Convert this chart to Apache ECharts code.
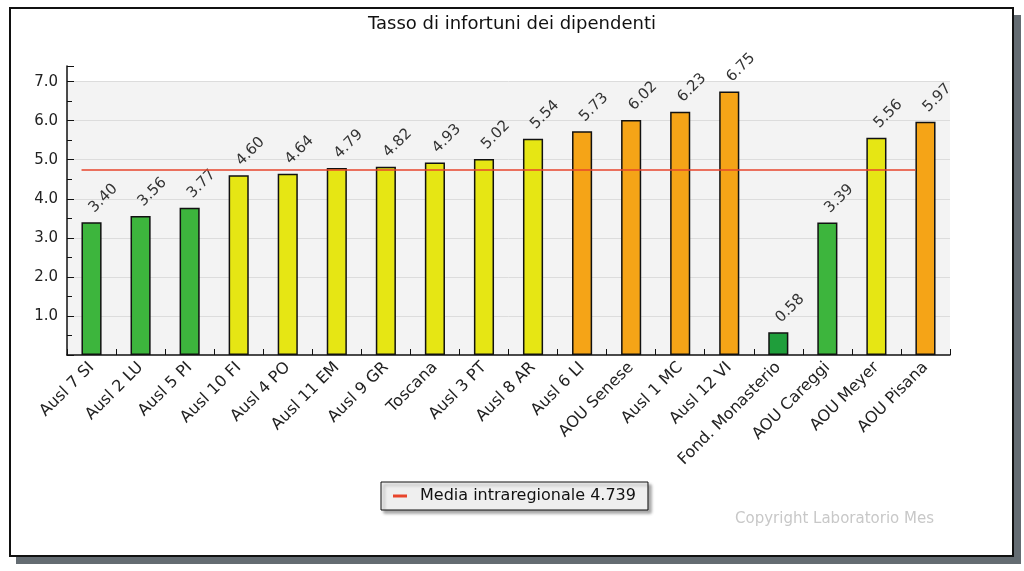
<!DOCTYPE html>
<html>
<head>
<meta charset="utf-8">
<script src="https://cdn.jsdelivr.net/npm/echarts@6/dist/echarts.min.js"></script>
<style>
html,body{margin:0;padding:0;background:#fff;}
#chart{width:1024px;height:571px;}
</style>
</head>
<body>
<div id="chart"></div>
<script>
const categories = ['Ausl 7 SI','Ausl 2 LU','Ausl 5 PI','Ausl 10 FI','Ausl 4 PO','Ausl 11 EM','Ausl 9 GR','Toscana','Ausl 3 PT','Ausl 8 AR','Ausl 6 LI','AOU Senese','Ausl 1 MC','Ausl 12 VI','Fond. Monasterio','AOU Careggi','AOU Meyer','AOU Pisana'];
const values = [3.40,3.56,3.77,4.60,4.64,4.79,4.82,4.93,5.02,5.54,5.73,6.02,6.23,6.75,0.58,3.39,5.56,5.97];
const bands = ['verde','verde','verde','giallo','giallo','giallo','giallo','giallo','giallo','giallo','arancio','arancio','arancio','arancio','verdeScuro','verde','giallo','arancio'];
const mediaRegionale = 4.739;
const yTicks = [1,2,3,4,5,6,7];
const titleText = 'Tasso di infortuni dei dipendenti';
const mediaLabel = 'Media intraregionale ' + mediaRegionale;
const copyrightText = 'Copyright Laboratorio Mes';

const bandColors = {verde:'#3db53d', verdeScuro:'#1f9e3b', giallo:'#e6e614', arancio:'#f5a417'};
const FONT = 'DejaVu Sans';

const chart = echarts.init(document.getElementById('chart'), null, {renderer:'canvas'});
const yMax = 7.4;
const option = {
  animation:false,
  backgroundColor:'#ffffff',
  title:{text:titleText,left:'center',top:10,textStyle:{fontFamily:FONT,fontSize:18,fontWeight:'normal',color:'#111'}},
  graphic:[
    {type:'rect',z:-100,shape:{x:16,y:15,width:1005,height:549},style:{fill:'#646c72'}},
    {type:'rect',z:-99,shape:{x:10,y:8,width:1003,height:548},style:{fill:'#ffffff',stroke:'#111',lineWidth:2}},
    {type:'text',z:10,left:735,top:512,style:{text:copyrightText,fill:'#c8c8c8',font:'15px "DejaVu Sans"'}}
  ],
  legend:{
    data:[{name:mediaLabel,icon:'rect'}],
    left:381,top:482,
    padding:[6,12,6,12],
    itemWidth:14,itemHeight:3,
    backgroundColor:'#efefef',borderColor:'#111',borderWidth:1,
    shadowColor:'rgba(0,0,0,0.35)',shadowBlur:3,shadowOffsetX:3,shadowOffsetY:3,
    textStyle:{fontFamily:FONT,fontSize:16,color:'#111',padding:[0,0,0,8]}
  },
  grid:[
    {left:67,right:74,top:66,bottom:216,containLabel:false},
    {left:57,right:84,top:66,bottom:216,containLabel:false}
  ],
  xAxis:[
    {type:'category',gridIndex:0,data:categories,
      axisLine:{lineStyle:{color:'#111',width:1.5}},
      axisTick:{show:true,inside:true,length:6,lineStyle:{color:'#111'}},
      axisLabel:{rotate:45,margin:10,fontFamily:FONT,fontSize:16,color:'#222',interval:0}},
    {type:'category',gridIndex:1,data:categories,show:false}
  ],
  yAxis:[
    {type:'value',gridIndex:0,min:0,max:yMax,interval:1,
      axisLine:{show:true,lineStyle:{color:'#111',width:1.5}},
      axisTick:{show:true,inside:true,length:7,lineStyle:{color:'#111'}},
      minorTick:{show:true,splitNumber:2,length:5,lineStyle:{color:'#111'}},
      axisLabel:{margin:9,fontFamily:FONT,fontSize:15,color:'#222',
        formatter:function(v){return (yTicks.indexOf(Math.round(v*10)/10)>=0)?v.toFixed(1):'';}},
      splitLine:{show:true,showMaxLine:false,showMinLine:false,lineStyle:{color:'#dcdcdc',width:1}},
      splitArea:{show:true,areaStyle:{color:['#f3f3f3','#f3f3f3','#f3f3f3','#f3f3f3','#f3f3f3','#f3f3f3','#f3f3f3','rgba(255,255,255,0)']}}
    },
    {type:'value',gridIndex:1,min:0,max:yMax,show:false,splitLine:{show:false}}
  ],
  series:[
    {type:'bar',name:'Tasso',xAxisIndex:0,yAxisIndex:0,barWidth:'41%',
      data:values.map(function(v,i){return {value:v,itemStyle:{color:bandColors[bands[i]]}};}),
      itemStyle:{borderColor:'#111',borderWidth:1.5},
      label:{show:true,position:'top',distance:12,rotate:45,align:'left',verticalAlign:'middle',
        fontFamily:FONT,fontSize:15,color:'#333',formatter:function(p){return p.value.toFixed(2);}},
      z:3},
    {type:'line',name:mediaLabel,xAxisIndex:1,yAxisIndex:1,symbol:'none',
      data:categories.map(function(){return mediaRegionale;}),
      lineStyle:{color:'#e8452c',width:1.5},itemStyle:{color:'#e8452c'},z:4}
  ]
};
chart.setOption(option);
</script>
</body>
</html>
